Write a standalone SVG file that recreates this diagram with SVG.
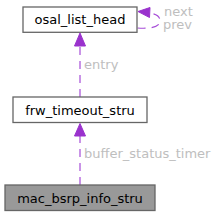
<svg xmlns="http://www.w3.org/2000/svg" width="219" height="216" viewBox="0 0 219 216">
<defs>
<style>
.box{fill:#ffffff;stroke:#666666;stroke-width:1.3}
.cur{fill:#999999;stroke:#666666;stroke-width:1.3}
.t{font-family:"DejaVu Sans",Verdana,sans-serif;font-size:13px;fill:#000000;text-anchor:middle}
.l{font-family:"DejaVu Sans",Verdana,sans-serif;font-size:13px;fill:#bebebe}
.e{fill:none;stroke:#a64cd8;stroke-width:1.2;stroke-dasharray:8,6}
.h{fill:#9a32cd;stroke:#9a32cd;stroke-width:1}
</style>
</defs>
<rect width="219" height="216" fill="#ffffff"/>
<g id="connectors">
<path class="e" d="M80,185 L80,136"/>
<polygon class="h" points="80,123.5 74.5,136 85.5,136"/>
<text class="l" x="84" y="158">buffer_status_timer</text>
<path class="e" d="M80,97 L80,46"/>
<polygon class="h" points="80,33 74.5,46 85.5,46"/>
<text class="l" x="84" y="69">entry</text>
<path class="e" d="M137.5,28 C150,29 160,27 160,21 C160,16 156,14 149,13"/>
<polygon class="h" points="138,11.5 150,7.5 149.5,17.5"/>
<text class="l" x="164" y="16">next</text>
<text class="l" x="163" y="29">prev</text>
</g>
<g id="osal_list_head">
<rect class="box" x="23" y="7" width="114" height="25.3"/>
<text class="t" x="80" y="24">osal_list_head</text>
</g>
<g id="frw_timeout_stru">
<rect class="box" x="13" y="97" width="134" height="25.5"/>
<text class="t" x="80" y="114.5">frw_timeout_stru</text>
</g>
<g id="mac_bsrp_info_stru">
<rect class="cur" x="5" y="185" width="150" height="25.5"/>
<text class="t" x="80" y="202.5">mac_bsrp_info_stru</text>
</g>
</svg>
